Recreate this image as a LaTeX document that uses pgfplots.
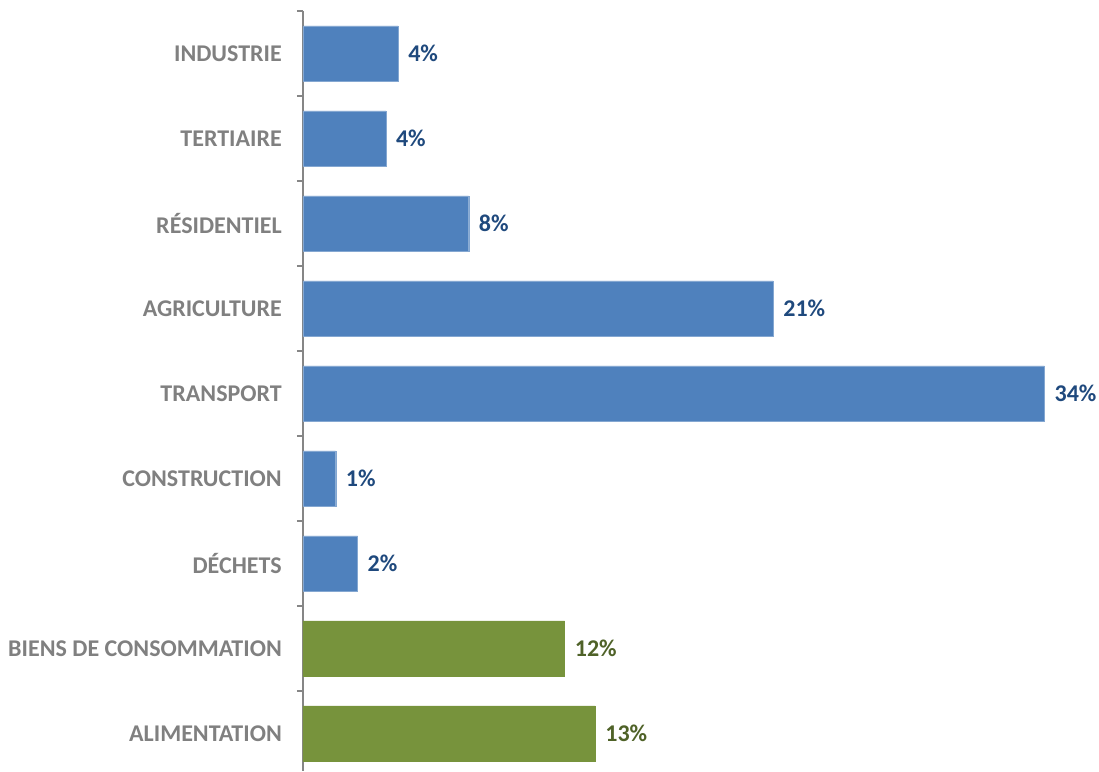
\documentclass[border=0pt]{standalone}
\usepackage{fontspec}
\setmainfont{Carlito}
\usepackage{pgfplots}
\pgfplotsset{compat=1.18}

\definecolor{barblue}{HTML}{4F81BD}
\definecolor{bargreen}{HTML}{77933C}
\definecolor{lblblue}{HTML}{1F497D}
\definecolor{lblgreen}{HTML}{4F6228}
\definecolor{txtgray}{HTML}{808080}
\definecolor{axgray}{HTML}{868686}

\begin{document}
\begin{tikzpicture}
\begin{axis}[
  name=ax,
  scale only axis,
  width=785bp, height=760bp,
  xmin=0, xmax=36,
  ymin=-0.5, ymax=8.44,
  y dir=reverse,
  axis x line=none,
  axis y line=left,
  y axis line style={-, axgray, line width=1.4bp},
  ytick={0,...,8},
  yticklabels={INDUSTRIE,TERTIAIRE,RÉSIDENTIEL,AGRICULTURE,TRANSPORT,CONSTRUCTION,DÉCHETS,BIENS DE CONSOMMATION,ALIMENTATION},
  major tick length=0pt,
  minor ytick={-0.5,0.5,...,7.5},
  minor tick length=6bp,
  tick align=outside,
  every tick/.style={axgray, line width=1.4bp},
  yticklabel style={anchor=east, inner sep=0pt, xshift=-21bp, font=\fontsize{24.1}{29}\selectfont\bfseries, text=txtgray},
  bar width=0.65,
  clip=false,
  point meta=explicit symbolic,
  nodes near coords={\pgfplotspointmeta\%},
  nodes near coords style={anchor=west, inner sep=0pt, xshift=10bp, font=\fontsize{24.1}{29}\selectfont\bfseries},
]
\addplot[xbar, bar shift=0pt, fill=barblue, draw=barblue!70!white, nodes near coords style={text=lblblue}]
  table[x=v, y=i, meta=lab] {
v     i  lab
4.36  0  4
3.80  1  4
7.60  2  8
21.56 3  21
34.00 4  34
1.50  5  1
2.50  6  2
};
\addplot[xbar, bar shift=0pt, fill=bargreen, draw=bargreen, nodes near coords style={text=lblgreen}]
  table[x=v, y=i, meta=lab] {
v     i  lab
12.00 7  12
13.40 8  13
};
\end{axis}
\path ([xshift=-303bp, yshift=11bp]ax.north west) ([xshift=796bp, yshift=11bp]ax.north west);
\end{tikzpicture}
\end{document}
